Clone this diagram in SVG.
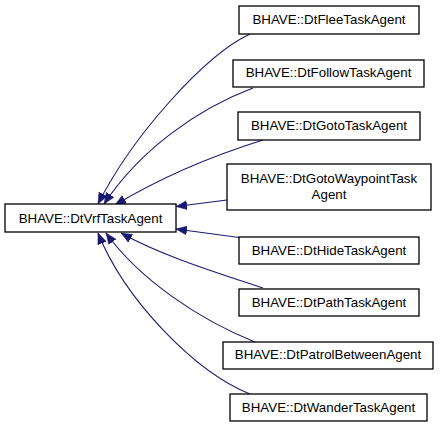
<svg xmlns="http://www.w3.org/2000/svg" width="440" height="429" viewBox="0 0 440 429">
<style>
.box{fill:#fff;stroke:#000;stroke-width:1.3}
.lbl{font-family:"Liberation Sans",Arial,sans-serif;font-size:13.33px;fill:#000;text-anchor:middle}
.edge{fill:none;stroke:#191970;stroke-width:1.1}
</style>
<defs>
<marker id="ah" markerUnits="userSpaceOnUse" markerWidth="12" markerHeight="10" viewBox="0 0 12 10" refX="11" refY="5" orient="auto">
<path d="M0,0.5 L11,5 L0,9.5 Z" fill="#191970" stroke="#191970" stroke-width="0.5"/>
</marker>
</defs>
<g id="connectors">
<path class="edge" marker-end="url(#ah)" d="M250,34 C205,55 133,135 98,204"/>
<path class="edge" marker-end="url(#ah)" d="M253,88 C197,109 140,150 104,204"/>
<path class="edge" marker-end="url(#ah)" d="M263,140 C215,155 160,178 115,205"/>
<path class="edge" marker-end="url(#ah)" d="M227,200 L176,206.5"/>
<path class="edge" marker-end="url(#ah)" d="M239,237.5 L176,229"/>
<path class="edge" marker-end="url(#ah)" d="M263,288 C215,272 160,255 121,233"/>
<path class="edge" marker-end="url(#ah)" d="M255,342 C200,320 140,280 106,233"/>
<path class="edge" marker-end="url(#ah)" d="M250,394 C195,372 125,300 98,233"/>
</g>
<g id="DtVrfTaskAgent">
<rect class="box" x="5" y="204" width="171" height="28"/>
<text class="lbl" x="90.5" y="222.5">BHAVE::DtVrfTaskAgent</text>
</g>
<g id="DtFleeTaskAgent">
<rect class="box" x="239" y="6" width="180" height="28"/>
<text class="lbl" x="329" y="24">BHAVE::DtFleeTaskAgent</text>
</g>
<g id="DtFollowTaskAgent">
<rect class="box" x="233" y="60" width="191" height="27"/>
<text class="lbl" x="328.5" y="77">BHAVE::DtFollowTaskAgent</text>
</g>
<g id="DtGotoTaskAgent">
<rect class="box" x="238" y="112" width="182" height="28"/>
<text class="lbl" x="329" y="130">BHAVE::DtGotoTaskAgent</text>
</g>
<g id="DtGotoWaypointTaskAgent">
<rect class="box" x="227" y="164" width="204" height="46"/>
<text class="lbl" x="329" y="183">BHAVE::DtGotoWaypointTask</text>
<text class="lbl" x="329" y="199">Agent</text>
</g>
<g id="DtHideTaskAgent">
<rect class="box" x="239" y="237" width="180" height="27"/>
<text class="lbl" x="329" y="255">BHAVE::DtHideTaskAgent</text>
</g>
<g id="DtPathTaskAgent">
<rect class="box" x="239" y="289" width="180" height="27"/>
<text class="lbl" x="329" y="306.5">BHAVE::DtPathTaskAgent</text>
</g>
<g id="DtPatrolBetweenAgent">
<rect class="box" x="223" y="342" width="210" height="27"/>
<text class="lbl" x="328" y="359">BHAVE::DtPatrolBetweenAgent</text>
</g>
<g id="DtWanderTaskAgent">
<rect class="box" x="230" y="394" width="197" height="27"/>
<text class="lbl" x="328.5" y="411.5">BHAVE::DtWanderTaskAgent</text>
</g>
</svg>
